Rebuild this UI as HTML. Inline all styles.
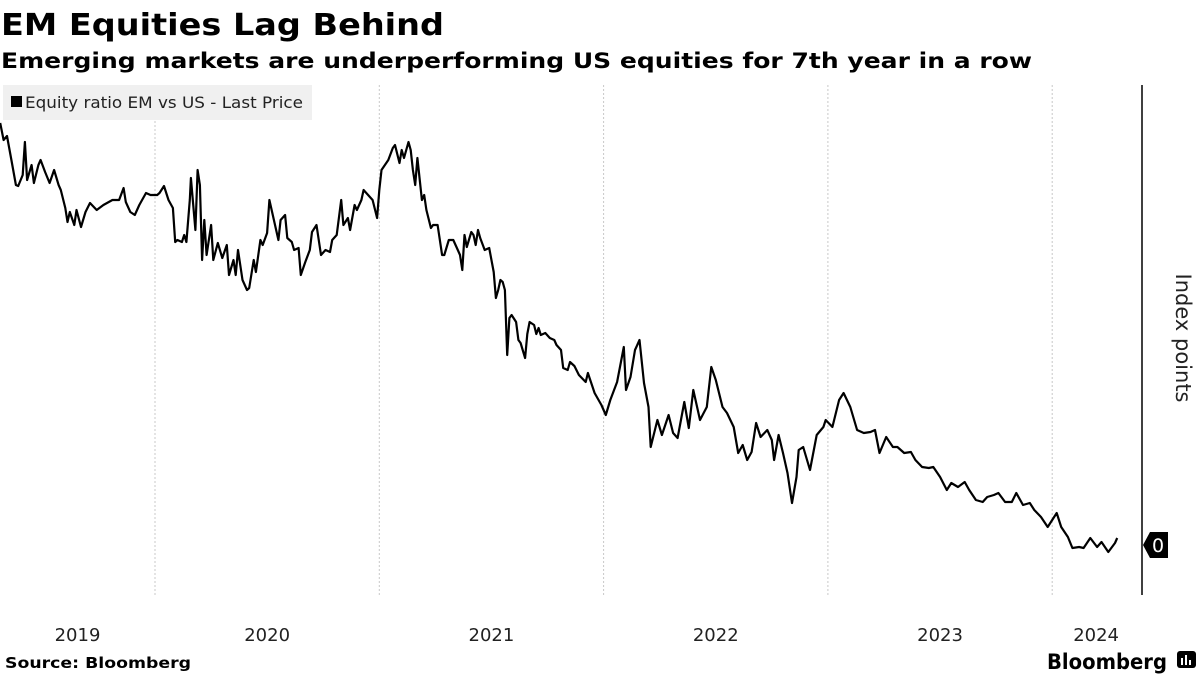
<!DOCTYPE html>
<html><head><meta charset="utf-8"><style>
html,body{margin:0;padding:0;background:#fff;width:1200px;height:675px;overflow:hidden}
svg{display:block;font-family:"DejaVu Sans","Liberation Sans",sans-serif}
</style></head><body>
<svg id="chart" width="1200" height="675" viewBox="0 0 1200 675">
<text x="1" y="35" font-size="30" font-weight="bold" textLength="443" lengthAdjust="spacingAndGlyphs">EM Equities Lag Behind</text>
<text x="1" y="68" font-size="21" font-weight="bold" textLength="1031" lengthAdjust="spacingAndGlyphs">Emerging markets are underperforming US equities for 7th year in a row</text>
<g id="grid"></g>
<g>
<rect x="3" y="85" width="309" height="35" fill="#f0f0f0"/>
<rect x="11" y="96" width="11" height="11" fill="#000"/>
<text x="25" y="108" font-size="16" fill="#222" textLength="278" lengthAdjust="spacingAndGlyphs">Equity ratio EM vs US - Last Price</text>
</g>
<line x1="1142" y1="85" x2="1142" y2="595" stroke="#000" stroke-width="1.5"/>
<text transform="translate(1176,338) rotate(90)" font-size="21" fill="#222" text-anchor="middle">Index points</text>
<g id="xlabels"></g>
<path id="line" fill="none" stroke="#000" stroke-width="2.2" stroke-linejoin="round"/>
<g id="lastTag"></g>
<text x="5" y="668" font-size="15" font-weight="bold" textLength="186" lengthAdjust="spacingAndGlyphs">Source: Bloomberg</text>
<text x="1047" y="669" font-size="21" font-weight="bold" textLength="120" lengthAdjust="spacingAndGlyphs">Bloomberg</text>
<g>
<rect x="1177" y="651" width="19" height="17" rx="3" fill="#000"/>
<rect x="1181" y="658" width="2" height="7" fill="#fff"/><rect x="1185" y="655" width="2" height="10" fill="#fff"/><rect x="1189" y="660" width="2" height="5" fill="#fff"/>
</g>
</svg>
<script>
const years = [2019, 2020, 2021, 2022, 2023, 2024];
const gridYears = [2020, 2021, 2022, 2023, 2024];
const lastLabel = "0";
const dates = [2019.31,2019.325,2019.34,2019.35,2019.36,2019.38,2019.39,2019.41,2019.42,2019.43,2019.45,2019.46,2019.48,2019.49,2019.51,2019.53,2019.55,2019.57,2019.58,2019.60,2019.61,2019.62,2019.64,2019.65,2019.67,2019.69,2019.71,2019.74,2019.77,2019.81,2019.84,2019.86,2019.87,2019.89,2019.91,2019.93,2019.96,2019.98,2020.01,2020.02,2020.04,2020.06,2020.08,2020.09,2020.10,2020.12,2020.13,2020.14,2020.155,2020.16,2020.18,2020.19,2020.20,2020.21,2020.22,2020.23,2020.25,2020.26,2020.28,2020.30,2020.32,2020.33,2020.35,2020.36,2020.37,2020.39,2020.41,2020.42,2020.44,2020.45,2020.47,2020.48,2020.50,2020.51,2020.53,2020.55,2020.56,2020.58,2020.59,2020.61,2020.62,2020.64,2020.65,2020.67,2020.69,2020.70,2020.72,2020.74,2020.76,2020.78,2020.79,2020.81,2020.83,2020.84,2020.86,2020.87,2020.89,2020.90,2020.92,2020.93,2020.95,2020.97,2020.99,2021.00,2021.01,2021.04,2021.06,2021.07,2021.09,2021.10,2021.11,2021.13,2021.14,2021.15,2021.16,2021.17,2021.19,2021.20,2021.21,2021.23,2021.24,2021.26,2021.28,2021.29,2021.31,2021.33,2021.35,2021.36,2021.37,2021.38,2021.39,2021.41,2021.42,2021.43,2021.44,2021.45,2021.47,2021.49,2021.51,2021.52,2021.53,2021.54,2021.55,2021.56,2021.57,2021.58,2021.59,2021.61,2021.62,2021.63,2021.65,2021.66,2021.67,2021.69,2021.70,2021.71,2021.72,2021.74,2021.76,2021.78,2021.79,2021.81,2021.82,2021.84,2021.85,2021.87,2021.89,2021.92,2021.93,2021.96,2021.99,2022.01,2022.03,2022.06,2022.09,2022.10,2022.12,2022.14,2022.16,2022.18,2022.20,2022.21,2022.24,2022.26,2022.29,2022.31,2022.33,2022.36,2022.38,2022.40,2022.43,2022.46,2022.48,2022.50,2022.53,2022.55,2022.58,2022.60,2022.62,2022.64,2022.66,2022.68,2022.70,2022.73,2022.75,2022.76,2022.78,2022.80,2022.82,2022.84,2022.86,2022.87,2022.89,2022.92,2022.95,2022.98,2022.99,2023.02,2023.05,2023.07,2023.10,2023.13,2023.16,2023.19,2023.21,2023.23,2023.26,2023.29,2023.31,2023.34,2023.37,2023.39,2023.42,2023.45,2023.47,2023.50,2023.53,2023.55,2023.58,2023.61,2023.63,2023.66,2023.69,2023.71,2023.74,2023.76,2023.79,2023.82,2023.84,2023.87,2023.90,2023.92,2023.95,2023.98,2024.00,2024.02,2024.04,2024.07,2024.09,2024.12,2024.14,2024.17,2024.20,2024.22,2024.25,2024.28,2024.29];
const values = [421,404,408,396,384,359,358,369,402,364,379,361,379,384,372,361,374,359,354,336,322,332,319,334,317,332,341,334,339,344,344,356,342,332,329,339,351,349,349,351,358,344,336,302,304,302,309,302,344,366,314,374,359,284,324,289,319,284,301,286,299,269,284,269,294,264,254,256,284,272,304,299,311,344,324,304,324,329,306,302,294,296,269,282,294,312,319,289,294,292,304,309,344,319,326,314,339,334,344,354,349,344,326,354,374,384,396,399,381,394,386,402,394,374,359,386,344,349,334,316,319,319,289,289,304,304,294,289,274,309,297,312,309,299,314,306,294,296,272,246,254,264,262,254,189,226,229,222,204,201,186,210,222,219,210,216,209,211,206,204,199,194,176,174,182,178,169,162,171,151,139,129,144,162,197,154,167,194,204,161,137,97,124,109,129,111,106,142,116,154,124,137,177,164,137,131,117,91,99,84,92,121,107,114,104,84,109,91,71,41,67,94,97,74,109,117,124,117,144,151,137,114,111,112,114,91,107,97,97,91,92,84,77,76,77,67,54,61,57,62,54,44,42,47,49,51,42,42,51,39,41,34,27,17,24,31,17,7,-4,-3,-4,6,-3,2,-8,1,6,-1];
const NS="http://www.w3.org/2000/svg";
const X0=155, PX_PER_YEAR=224.3, YBASE=544;
function xScale(t){return X0+(t-2020)*PX_PER_YEAR;}
function yScale(v){return YBASE-v;}
const grid=document.getElementById('grid');
gridYears.forEach(function(yr){
  const l=document.createElementNS(NS,'line');
  
  
  const x=xScale(yr);
  l.setAttribute('x1',x);l.setAttribute('x2',x);l.setAttribute('y1',85);l.setAttribute('y2',595);
  l.setAttribute('stroke','#c8c8c8');l.setAttribute('stroke-dasharray','2,2');l.setAttribute('stroke-width','1');
  grid.appendChild(l);
});
const xl=document.getElementById('xlabels');
years.forEach(function(yr){
  const a=Math.max(xScale(yr),0), b=Math.min(xScale(yr+1),1140);
  const t=document.createElementNS(NS,'text');
  
  
  t.setAttribute('x',(a+b)/2);t.setAttribute('y',641);
  t.setAttribute('font-size','18');t.setAttribute('fill','#222');t.setAttribute('text-anchor','middle');
  t.textContent=yr;
  xl.appendChild(t);
});
let d='';
for(let i=0;i<dates.length;i++){d+=(i?'L':'M')+xScale(dates[i]).toFixed(1)+','+yScale(values[i]).toFixed(1);}
document.getElementById('line').setAttribute('d',d);
const ly=yScale(values[values.length-1]);
const tag=document.getElementById('lastTag');
const p=document.createElementNS(NS,'path');


p.setAttribute('d','M1143,'+ly+' L1150,'+(ly-13)+' L1168,'+(ly-13)+' L1168,'+(ly+13)+' L1150,'+(ly+13)+' Z');
p.setAttribute('fill','#000');
tag.appendChild(p);
const lt=document.createElementNS(NS,'text');


lt.setAttribute('x',1158);lt.setAttribute('y',ly+7);lt.setAttribute('fill','#fff');lt.setAttribute('font-size','19');lt.setAttribute('text-anchor','middle');
lt.textContent=lastLabel;
tag.appendChild(lt);
</script>
</body></html>
